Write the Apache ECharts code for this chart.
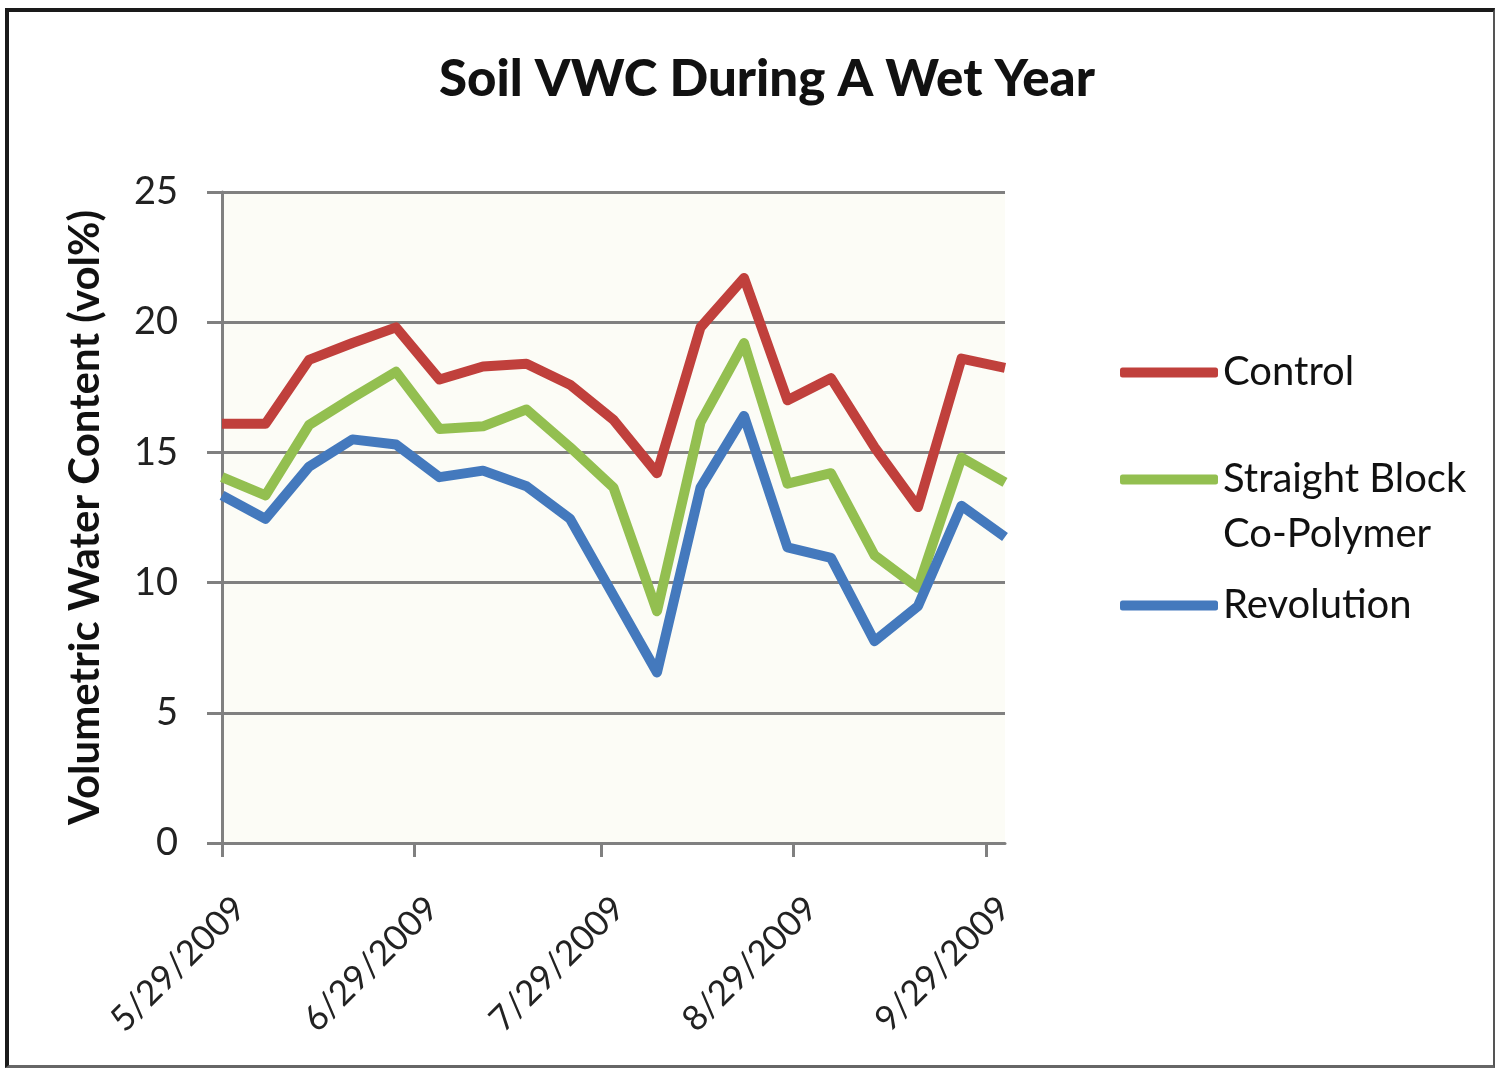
<!DOCTYPE html>
<html>
<head>
<meta charset="utf-8">
<script src="https://cdn.jsdelivr.net/npm/echarts@6/dist/echarts.min.js"></script>
<style>
  html, body { margin: 0; padding: 0; background: #ffffff; }
  #frame { position: absolute; left: 5px; top: 8px; width: 1490px; height: 1060px;
           border-left: 4px solid #1a1a1a; border-top: 4px solid #1a1a1a;
           border-right: 2px solid #555; border-bottom: 3px solid #666; box-sizing: border-box; }
  #chart { position: absolute; left: 0; top: 0; width: 1501px; height: 1075px; }
</style>
</head>
<body>
<div id="frame"></div>
<div id="chart"></div>
<script>
const titleText = 'Soil VWC During A Wet Year';
const yAxisTitle = 'Volumetric Water Content (vol%)';
const dates = ['2009-05-29','2009-06-05','2009-06-12','2009-06-19','2009-06-26','2009-07-03','2009-07-10',
  '2009-07-17','2009-07-24','2009-07-31','2009-08-07','2009-08-14','2009-08-21','2009-08-28',
  '2009-09-04','2009-09-11','2009-09-18','2009-09-25','2009-10-02'];
const control = [16.1, 16.1, 18.55, 19.2, 19.8, 17.8, 18.3, 18.4, 17.6, 16.25, 14.2, 19.8, 21.7, 17.0, 17.85, 15.2, 12.9, 18.6, 18.25];
const straightBlock = [14.05, 13.35, 16.05, 17.1, 18.1, 15.9, 16.0, 16.65, 15.2, 13.65, 8.9, 16.15, 19.2, 13.8, 14.2, 11.05, 9.8, 14.8, 13.85];
const revolution = [13.35, 12.45, 14.45, 15.5, 15.3, 14.05, 14.3, 13.7, 12.45, 9.5, 6.55, 13.65, 16.4, 11.35, 10.95, 7.75, 9.1, 12.95, 11.75];
const seriesNames = ['Control', 'Straight Block Co-Polymer', 'Revolution'];
const xTickLabels = ['5/29/2009', '6/29/2009', '7/29/2009', '8/29/2009', '9/29/2009'];
const xStart = '5/29/2009';
const xEnd = '10/2/2009';

const DAY = 86400000;
function parseMDY(s) { const p = s.split('/').map(Number); return Date.UTC(p[2], p[0] - 1, p[1]); }
function parseISO(s) { const p = s.split('-').map(Number); return Date.UTC(p[0], p[1] - 1, p[2]); }
const t0 = parseMDY(xStart);
function dayOf(t) { return Math.round((t - t0) / DAY); }
function fmt(v) { const d = new Date(t0 + Math.round(v) * DAY); return (d.getUTCMonth() + 1) + '/' + d.getUTCDate() + '/' + d.getUTCFullYear(); }

const tickValues = xTickLabels.map(s => dayOf(parseMDY(s)));
const colors = ['#c0403c', '#93bf50', '#4479bd'];
const allSeries = [control, straightBlock, revolution];
const FONT = 'Lato, "Open Sans", sans-serif';

function legendFor(name, top, formatter) {
  return {
    orient: 'vertical', left: 1120, top: top, padding: 0,
    itemWidth: 98, itemHeight: 10, icon: 'roundRect',
    data: [name],
    formatter: formatter || (n => n),
    textStyle: { fontFamily: FONT, fontSize: 40, color: '#111', lineHeight: 55 }
  };
}

const chart = echarts.init(document.getElementById('chart'));
chart.setOption({
  animation: false,
  backgroundColor: 'transparent',
  color: colors,
  title: {
    text: titleText, left: 434, top: 49,
    textStyle: { fontFamily: FONT, fontWeight: 900, fontSize: 51, color: '#111' }
  },
  grid: { left: 222, right: 496, top: 192, bottom: 232, show: true, backgroundColor: '#fcfcf6', borderWidth: 0 },
  legend: [
    legendFor(seriesNames[0], 345),
    legendFor(seriesNames[1], 397, n => '\n' + n.replace(' Co-', '\nCo-')),
    legendFor(seriesNames[2], 578)
  ],
  xAxis: {
    type: 'value', min: 0, max: dayOf(parseMDY(xEnd)),
    axisLine: { show: true, onZero: false, lineStyle: { color: '#808080', width: 3 } },
    axisTick: { show: true, customValues: tickValues, length: 14, lineStyle: { color: '#808080', width: 3 } },
    axisLabel: { customValues: tickValues, formatter: v => fmt(v), rotate: 45, margin: 42,
      verticalAlign: 'top', lineHeight: 50,
      fontFamily: FONT, fontSize: 35, color: '#222' },
    splitLine: { show: false }
  },
  yAxis: {
    type: 'value', min: 0, max: 25, interval: 5,
    name: yAxisTitle, nameLocation: 'middle', nameGap: 116, nameRotate: 90,
    nameTextStyle: { fontFamily: FONT, fontWeight: 'bold', fontSize: 42, color: '#111' },
    axisLine: { show: true, lineStyle: { color: '#808080', width: 3 } },
    axisTick: { show: true, length: 15, lineStyle: { color: '#808080', width: 3 } },
    axisLabel: { margin: 44, fontFamily: FONT, fontSize: 38, color: '#222' },
    splitLine: { show: true, lineStyle: { color: '#808080', width: 3 } }
  },
  series: seriesNames.map((name, i) => ({
    name, type: 'line', symbol: 'none',
    lineStyle: { width: 10, color: colors[i], join: 'round' },
    data: dates.map((d, j) => [dayOf(parseISO(d)), allSeries[i][j]])
  }))
});
</script>
</body>
</html>
